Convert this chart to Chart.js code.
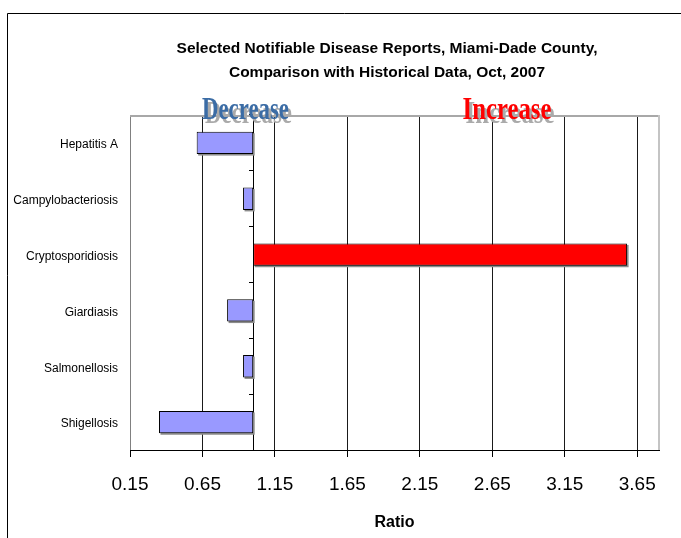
<!DOCTYPE html>
<html>
<head>
<meta charset="utf-8">
<script src="https://cdn.jsdelivr.net/npm/chart.js@4.4.1/dist/chart.umd.min.js"></script>
<style>
  html, body { margin: 0; padding: 0; background: #fff; overflow: hidden; }
  #wrap { position: relative; width: 681px; height: 538px; }
</style>
</head>
<body>
<div id="wrap"><canvas id="c" width="681" height="538"></canvas></div>
<script>
// Report text
const titleLines = [
  'Selected Notifiable Disease Reports, Miami-Dade County,',
  'Comparison with Historical Data, Oct, 2007'
];
const xTitle = 'Ratio';
const sideLabels = ['Decrease', 'Increase'];

// Diseases and their current / historical ratio
const diseases = ['Hepatitis A', 'Campylobacteriosis', 'Cryptosporidiosis', 'Giardiasis', 'Salmonellosis', 'Shigellosis'];
const ratios = [0.61, 0.93, 3.58, 0.82, 0.93, 0.35];

// Ratio axis
const baseline = 1.0;
const ratioTicks = [0.15, 0.65, 1.15, 1.65, 2.15, 2.65, 3.15, 3.65];
const axisMin = 0.15;
const axisMax = 3.8;

const SANS = "'Liberation Sans', Arial, sans-serif";
const SERIF = "'Liberation Serif', 'Times New Roman', serif";
Chart.defaults.font.family = SANS;
Chart.defaults.color = '#000';

const DECREASE_FILL = '#9999FF';
const INCREASE_FILL = '#FF0000';

// Outer frame of the figure
const framePlugin = {
  id: 'frame',
  beforeDraw(chart) {
    const ctx = chart.ctx;
    ctx.save();
    ctx.fillStyle = '#fff';
    ctx.fillRect(0, 0, chart.width, chart.height);
    ctx.strokeStyle = '#000';
    ctx.lineWidth = 1;
    ctx.beginPath();
    ctx.moveTo(7.5, chart.height);
    ctx.lineTo(7.5, 13.5);
    ctx.lineTo(chart.width, 13.5);
    ctx.stroke();
    ctx.restore();
  }
};

// Plot-area edges (top and right) plus bar drop shadows
const plotPlugin = {
  id: 'plotEdges',
  beforeDatasetsDraw(chart) {
    const ctx = chart.ctx;
    const a = chart.chartArea;
    ctx.save();
    ctx.strokeStyle = '#a8a8a8';
    ctx.lineWidth = 2;
    ctx.beginPath();
    ctx.moveTo(a.left, a.top + 1);
    ctx.lineTo(a.right, a.top + 1);
    ctx.stroke();
    ctx.strokeStyle = '#c4c4c4';
    ctx.beginPath();
    ctx.moveTo(a.right, a.top);
    ctx.lineTo(a.right, a.bottom);
    ctx.stroke();

    // thin shadows under each bar
    ctx.fillStyle = '#8c8c8c';
    chart.getDatasetMeta(0).data.forEach(el => {
      const p = el.getProps(['x', 'y', 'base', 'height'], true);
      const l = Math.min(p.x, p.base), r = Math.max(p.x, p.base);
      ctx.fillRect(l + 1.5, p.y - p.height / 2 + 1.5, r - l, p.height);
    });
    ctx.restore();
  }
};

// Title and the Decrease / Increase headings
const textPlugin = {
  id: 'headings',
  afterDraw(chart) {
    const ctx = chart.ctx;
    ctx.save();
    ctx.fillStyle = '#000';
    ctx.textAlign = 'center';
    ctx.textBaseline = 'alphabetic';
    ctx.font = `bold 15.5px ${SANS}`;
    const w0 = ctx.measureText(titleLines[0]).width;
    const sx = Math.min(1, 430 / w0);
    const cx = 387;
    [53, 77].forEach((by, i) => {
      ctx.save();
      ctx.translate(cx, by);
      ctx.scale(sx, 1);
      ctx.fillText(titleLines[i], 0, 0);
      ctx.restore();
    });

    const heads = [
      { text: sideLabels[0], x: 245.5, w: 87, color: '#3b6ca5' },
      { text: sideLabels[1], x: 507, w: 89, color: '#ff0000' }
    ];
    ctx.font = `bold 32px ${SERIF}`;
    heads.forEach(h => {
      const s = h.w / ctx.measureText(h.text).width;
      ctx.save();
      ctx.translate(h.x, 119);
      ctx.scale(s, 1);
      ctx.fillStyle = '#aaaaaa';
      ctx.fillText(h.text, 3 / s, 4);
      ctx.fillStyle = h.color;
      ctx.fillText(h.text, 0, 0);
      ctx.restore();
    });
    ctx.restore();
  }
};

new Chart(document.getElementById('c'), {
  type: 'bar',
  data: {
    labels: diseases,
    datasets: [{
      data: ratios,
      base: baseline,
      xAxisID: 'x',
      yAxisID: 'y',
      backgroundColor: ratios.map(v => v < baseline ? DECREASE_FILL : INCREASE_FILL),
      borderColor: '#000',
      borderWidth: 1,
      borderSkipped: false,
      barPercentage: 0.4,
      categoryPercentage: 1.0
    }]
  },
  options: {
    indexAxis: 'y',
    responsive: false,
    animation: false,
    devicePixelRatio: 1,
    layout: { padding: { left: 7, right: 22, top: 115, bottom: 0 } },
    plugins: {
      legend: { display: false },
      tooltip: { enabled: false },
      title: { display: false }
    },
    scales: {
      x: {
        type: 'linear',
        position: 'bottom',
        min: axisMin,
        max: axisMax,
        afterBuildTicks: s => { s.ticks = ratioTicks.map(v => ({ value: v })); },
        afterFit: s => { s.height = 88; },
        ticks: {
          callback: v => Number(v).toFixed(2),
          font: { size: 19 },
          color: '#000',
          padding: 16,
          autoSkip: false,
          maxRotation: 0
        },
        grid: {
          color: c => c.index === 0 ? '#808080' : '#1a1a1a',
          tickColor: '#000',
          tickLength: 7,
          lineWidth: 1
        },
        border: { color: '#000', width: 1 },
        title: {
          display: true,
          text: xTitle,
          font: { size: 16, weight: 'bold' },
          color: '#000',
          padding: { top: 4, bottom: 6 }
        }
      },
      y: {
        type: 'category',
        position: 'left',
        offset: true,
        afterFit: s => { s.width = 123; },
        grid: { display: false, drawTicks: false },
        border: { display: false },
        ticks: { font: { size: 12 }, color: '#000', padding: 12, labelOffset: 2 }
      },
      y2: {
        type: 'category',
        position: { x: baseline },
        offset: true,
        grid: { drawOnChartArea: false, offset: true, tickLength: 4, color: '#000' },
        ticks: { display: false },
        border: { color: '#000', width: 1 }
      }
    }
  },
  plugins: [framePlugin, plotPlugin, textPlugin]
});
</script>
</body>
</html>
